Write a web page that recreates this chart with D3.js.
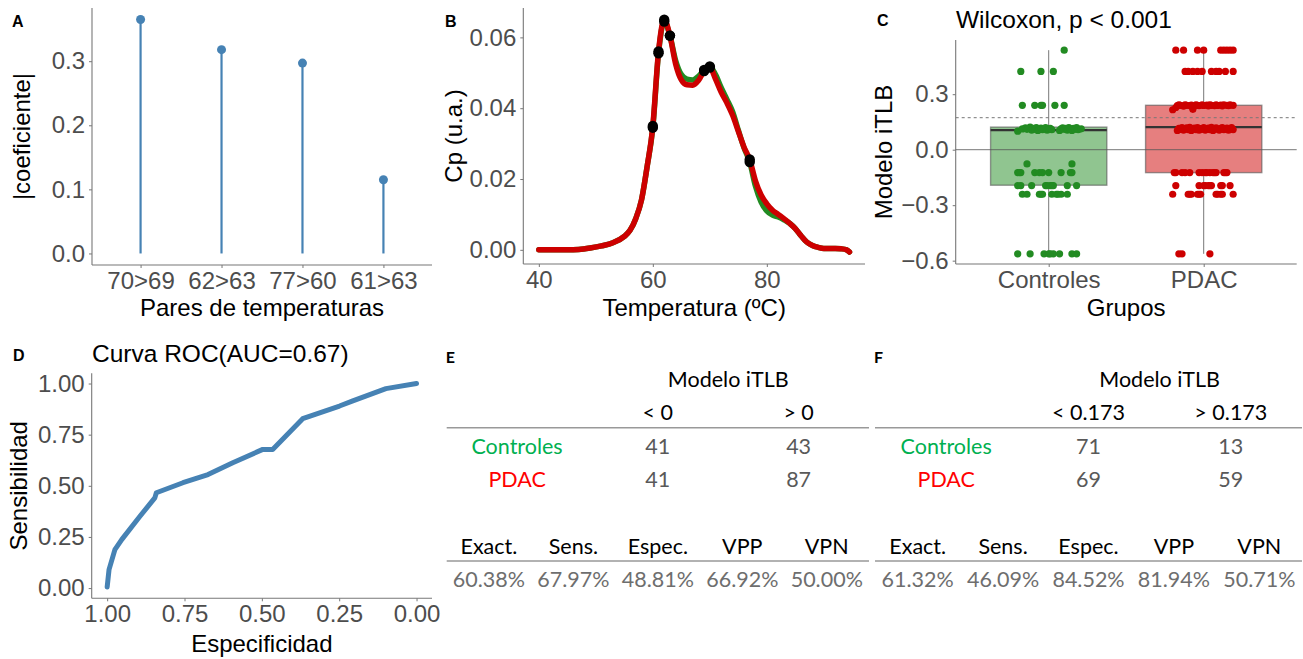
<!DOCTYPE html>
<html>
<head>
<meta charset="utf-8">
<script src="https://cdn.jsdelivr.net/npm/d3@7/dist/d3.min.js"></script>
<style>
  body { margin: 0; background: #fff; }
  svg text { font-family: "Liberation Sans", Arial, sans-serif; }
  .tbl text { font-family: Lato, "Open Sans", sans-serif; }
</style>
</head>
<body>
<svg id="fig" width="1303" height="659"></svg>
<script>
// ---- data: panel A (lollipop) ----
const pairLabels = ["70>69", "62>63", "77>60", "61>63"];
const pairCoefs = [0.365, 0.318, 0.297, 0.115];

// ---- data: panel B (thermograms) ----
const temps = [40, 45, 47, 49, 51, 53, 55, 56, 57, 58, 59, 60, 61, 62, 63, 64, 65, 66, 67, 68, 69, 70,
  71, 72, 73, 74, 75, 76, 77, 78, 79, 80, 81, 82, 83, 84, 85, 86, 87, 88, 89, 90, 91, 92, 93, 94, 94.5];
const cpPDAC = [0, 0, 0.0001, 0.0005, 0.0011, 0.0020, 0.0038, 0.0055, 0.0088, 0.0140, 0.0235, 0.0350,
  0.0560, 0.0650, 0.0605, 0.0525, 0.0480, 0.0466, 0.0465, 0.0478, 0.0505, 0.0515, 0.0482, 0.0445, 0.0415,
  0.0380, 0.0335, 0.0290, 0.0255, 0.0195, 0.0155, 0.0130, 0.0112, 0.0100, 0.0088, 0.0075, 0.0060, 0.0040,
  0.0022, 0.0012, 0.0007, 0.0004, 0.0004, 0.0004, 0.0003, 0.0000, -0.0006];
const cpControles = [0, 0, 0.0001, 0.0005, 0.0011, 0.0020, 0.0038, 0.0055, 0.0088, 0.0140, 0.0235, 0.0345,
  0.0555, 0.0645, 0.0605, 0.0535, 0.0495, 0.0482, 0.0480, 0.0490, 0.0508, 0.0518, 0.0495, 0.0458, 0.0425,
  0.0390, 0.0338, 0.0288, 0.0248, 0.0180, 0.0135, 0.0110, 0.0098, 0.0093, 0.0085, 0.0075, 0.0060, 0.0040,
  0.0022, 0.0012, 0.0007, 0.0004, 0.0004, 0.0004, 0.0003, 0.0000, -0.0006];
const markedTemps = [60, 61, 62, 63, 69, 70, 77];

// ---- data: panel C (boxplot + jittered points) ----
const groups = ["Controles", "PDAC"];
const boxQ1 = [-0.192, -0.124];
const boxMedian = [0.106, 0.122];
const boxQ3 = [0.122, 0.240];
const whiskerLow = [-0.563, -0.563];
const whiskerHigh = [0.538, 0.538];
const cutoff = 0.173;
// [value, jitter as fraction of category spacing]
const ctrlPoints = [
  [0.538, 0.10],
  [0.423, -0.18], [0.423, -0.05], [0.423, 0.03],
  [0.240, -0.17], [0.240, -0.09], [0.240, -0.05], [0.240, -0.04], [0.240, 0.04], [0.240, 0.10],
  [0.100, -0.20], [0.112, -0.17], [0.118, -0.15], [0.110, -0.14], [0.122, -0.12], [0.106, -0.11],
  [0.115, -0.10], [0.110, -0.09], [0.120, -0.08], [0.104, -0.07], [0.112, -0.06], [0.117, -0.05],
  [0.108, -0.04], [0.113, -0.03], [0.120, -0.02], [0.105, -0.01], [0.111, 0.00], [0.116, 0.01],
  [0.108, 0.02], [0.104, 0.07], [0.112, 0.08], [0.118, 0.09], [0.110, 0.10], [0.115, 0.11],
  [0.106, 0.12], [0.120, 0.13], [0.111, 0.14], [0.104, 0.15], [0.116, 0.16], [0.110, 0.17],
  [0.119, 0.18], [0.108, 0.19], [0.113, 0.21],
  [-0.077, -0.14], [-0.077, 0.15],
  [-0.124, -0.20], [-0.124, -0.18], [-0.124, -0.09], [-0.124, -0.06], [-0.124, -0.04], [-0.124, 0.00],
  [-0.124, 0.08], [-0.124, 0.15], [-0.124, 0.14], [-0.124, -0.19],
  [-0.194, -0.20], [-0.194, -0.18], [-0.194, -0.11], [-0.194, -0.02], [-0.194, 0.01], [-0.194, 0.02],
  [-0.194, 0.12], [-0.194, 0.18], [-0.194, -0.01], [-0.194, 0.03],
  [-0.241, -0.17], [-0.241, -0.14], [-0.241, -0.06], [-0.241, -0.04], [-0.241, 0.02], [-0.241, 0.05],
  [-0.241, 0.08], [-0.241, 0.12], [-0.241, -0.05], [-0.241, 0.06],
  [-0.563, -0.20], [-0.563, -0.12], [-0.563, -0.03], [-0.563, 0.00], [-0.563, 0.03], [-0.563, 0.07],
  [-0.563, 0.15], [-0.563, 0.18], [-0.563, 0.01]
];
const pdacPoints = [
  [0.538, -0.18], [0.538, -0.13], [0.538, -0.04], [0.538, 0.00], [0.538, 0.11], [0.538, 0.13],
  [0.538, 0.15], [0.538, 0.17], [0.538, 0.19],
  [0.423, -0.12], [0.423, -0.10], [0.423, -0.07], [0.423, -0.04], [0.423, -0.01], [0.423, 0.05],
  [0.423, 0.08], [0.423, 0.10], [0.423, 0.14], [0.423, 0.19],
  [0.216, -0.20], [0.218, -0.07], [0.228, -0.18],
  [0.238, -0.17], [0.242, -0.16], [0.240, -0.15], [0.236, -0.13], [0.243, -0.12], [0.240, -0.11],
  [0.238, -0.09], [0.241, -0.08], [0.237, -0.06], [0.243, -0.05], [0.240, -0.04], [0.238, -0.03],
  [0.242, -0.01], [0.239, 0.00], [0.241, 0.02], [0.237, 0.03], [0.243, 0.04], [0.240, 0.05],
  [0.238, 0.07], [0.242, 0.08], [0.239, 0.09], [0.241, 0.11], [0.237, 0.12], [0.243, 0.13],
  [0.240, 0.15], [0.238, 0.16], [0.242, 0.17], [0.240, 0.19],
  [0.104, -0.17], [0.116, -0.16], [0.110, -0.15], [0.120, -0.14], [0.106, -0.13], [0.113, -0.12],
  [0.118, -0.11], [0.108, -0.10], [0.121, -0.09], [0.104, -0.08], [0.112, -0.07], [0.117, -0.06],
  [0.109, -0.05], [0.120, -0.04], [0.105, -0.03], [0.114, -0.02], [0.110, -0.01], [0.119, 0.00],
  [0.106, 0.01], [0.112, 0.02], [0.117, 0.03], [0.108, 0.04], [0.121, 0.05], [0.104, 0.06],
  [0.113, 0.07], [0.118, 0.08], [0.110, 0.09], [0.106, 0.10], [0.115, 0.11], [0.120, 0.12],
  [0.108, 0.13], [0.113, 0.14], [0.117, 0.15], [0.105, 0.16], [0.111, 0.17], [0.119, 0.18],
  [0.109, 0.19],
  [-0.124, -0.19], [-0.124, -0.14], [-0.124, -0.09], [-0.124, -0.03], [-0.124, -0.01], [-0.124, 0.02],
  [-0.124, 0.04], [-0.124, 0.06], [-0.124, 0.08], [-0.124, 0.13], [-0.124, 0.15], [-0.124, -0.18],
  [-0.124, -0.12], [-0.124, 0.01], [-0.124, 0.07], [-0.124, 0.14],
  [-0.194, -0.18], [-0.194, -0.03], [-0.194, 0.00], [-0.194, 0.03], [-0.194, 0.05], [-0.194, 0.11],
  [-0.194, 0.17], [-0.194, 0.01], [-0.194, 0.04], [-0.194, 0.12],
  [-0.241, -0.20], [-0.241, -0.10], [-0.241, -0.08], [-0.241, -0.04], [-0.241, -0.02], [-0.241, 0.08],
  [-0.241, 0.12], [-0.241, 0.19], [-0.241, -0.09], [-0.241, -0.03], [-0.241, 0.09], [-0.241, 0.11],
  [-0.563, -0.16], [-0.563, -0.14], [-0.563, 0.04]
];

// ---- data: panel D (ROC) ----
const rocSpec = [1.0, 0.994, 0.975, 0.953, 0.894, 0.846, 0.841, 0.755, 0.674, 0.594, 0.497, 0.465,
  0.368, 0.249, 0.206, 0.099, 0.0];
const rocSens = [0.005, 0.09, 0.188, 0.237, 0.351, 0.441, 0.466, 0.515, 0.555, 0.613, 0.678, 0.678,
  0.828, 0.89, 0.915, 0.975, 1.0];
const aucLabel = "Curva ROC(AUC=0.67)";

// ---- data: panels E and F (tables) ----
const tableGroups = ["Controles", "PDAC"];
const cutsE = ["< 0", "> 0"];
const countsE = [[41, 43], [41, 87]];
const cutsF = ["< 0.173", "> 0.173"];
const countsF = [[71, 13], [69, 59]];
const metricNames = ["Exact.", "Sens.", "Espec.", "VPP", "VPN"];
const metricsE = ["60.38%", "67.97%", "48.81%", "66.92%", "50.00%"];
const metricsF = ["61.32%", "46.09%", "84.52%", "81.94%", "50.71%"];

// ---- drawing ----
const svg = d3.select("#fig");
const AXIS = "#777", TICKTXT = "#4d4d4d";
const GREEN = "#228B22", RED = "#CD0000";
const TICK_PX = 24, TITLE_PX = 24;

function styleAxis(sel) {
  sel.select(".domain").remove();
  sel.attr("font-family", null).attr("font-size", null);
  sel.selectAll(".tick line").attr("stroke", AXIS);
  sel.selectAll(".tick text").attr("fill", TICKTXT).style("font-size", TICK_PX + "px");
}

// draws ggplot-classic style axes for a panel box
function axes(box, x, y, opts) {
  const g = svg.append("g");
  g.append("g").attr("transform", `translate(${box.x0},0)`)
    .call(d3.axisLeft(y).tickValues(opts.yTicks).tickFormat(opts.yFmt).tickSize(3).tickPadding(4))
    .call(styleAxis);
  g.append("g").attr("transform", `translate(0,${box.y1})`)
    .call(d3.axisBottom(x).tickValues(opts.xTicks).tickFormat(opts.xFmt).tickSize(3).tickPadding(4))
    .call(styleAxis);
  g.append("line").attr("x1", box.x0).attr("x2", box.x0).attr("y1", box.y0).attr("y2", box.y1)
    .attr("stroke", AXIS).attr("stroke-width", 1.1);
  g.append("line").attr("x1", box.x0).attr("x2", box.x1).attr("y1", box.y1).attr("y2", box.y1)
    .attr("stroke", AXIS).attr("stroke-width", 1.1);
  // titles
  g.append("text").attr("x", (box.x0 + box.x1) / 2).attr("y", opts.xTitleY)
    .attr("text-anchor", "middle").attr("dominant-baseline", "central")
    .style("font-size", TITLE_PX + "px").attr("fill", "#000").text(opts.xTitle);
  g.append("text").attr("transform", `translate(${opts.yTitleX},${(box.y0 + box.y1) / 2}) rotate(-90)`)
    .attr("text-anchor", "middle").attr("dominant-baseline", "central")
    .style("font-size", TITLE_PX + "px").attr("fill", "#000").text(opts.yTitle);
}

function panelLabel(txt, x, y) {
  svg.append("text").attr("x", x).attr("y", y).attr("dominant-baseline", "central")
    .style("font-size", "16px").style("font-weight", "bold").text(txt);
}

// ---------- A ----------
{
  const box = { x0: 92, x1: 432, y0: 8, y1: 265 };
  const x = d3.scalePoint().domain(pairLabels).range([box.x0, box.x1]).padding(0.6);
  const y = d3.scaleLinear().domain([-0.018, 0.383]).range([box.y1, box.y0]);
  axes(box, x, y, {
    yTicks: [0, 0.1, 0.2, 0.3], yFmt: d3.format(".1f"), xTicks: pairLabels, xFmt: d => d,
    xTitle: "Pares de temperaturas", xTitleY: 307, yTitle: "|coeficiente|", yTitleX: 21
  });
  const g = svg.append("g");
  g.selectAll("line.stem").data(pairLabels).join("line")
    .attr("x1", d => x(d)).attr("x2", d => x(d))
    .attr("y1", y(0)).attr("y2", (d, i) => y(pairCoefs[i]))
    .attr("stroke", "steelblue").attr("stroke-width", 2.2);
  g.selectAll("circle").data(pairLabels).join("circle")
    .attr("cx", d => x(d)).attr("cy", (d, i) => y(pairCoefs[i])).attr("r", 4.5)
    .attr("fill", "steelblue");
  panelLabel("A", 12, 21);
}

// ---------- B ----------
{
  const box = { x0: 523.3, x1: 865, y0: 8, y1: 264 };
  const x = d3.scaleLinear().domain([37.275, 97.225]).range([box.x0, box.x1]);
  const y = d3.scaleLinear().domain([-0.004, 0.0683]).range([box.y1, box.y0]);
  axes(box, x, y, {
    yTicks: [0, 0.02, 0.04, 0.06], yFmt: d3.format(".2f"), xTicks: [40, 60, 80], xFmt: d3.format("d"),
    xTitle: "Temperatura (ºC)", xTitleY: 307, yTitle: "Cp (u.a.)", yTitleX: 453
  });
  const line = d3.line().x((d, i) => x(temps[i])).y(d => y(d)).curve(d3.curveMonotoneX);
  const series = [{ v: cpControles, c: GREEN }, { v: cpPDAC, c: RED }];
  svg.append("g").selectAll("path").data(series).join("path")
    .attr("d", d => line(d.v)).attr("fill", "none").attr("stroke", d => d.c)
    .attr("stroke-width", 5.5).attr("stroke-linejoin", "round").attr("stroke-linecap", "round");
  const dots = [];
  series.forEach(s => markedTemps.forEach(t => dots.push([t, s.v[temps.indexOf(t)]])));
  svg.append("g").selectAll("circle").data(dots).join("circle")
    .attr("cx", d => x(d[0])).attr("cy", d => y(d[1])).attr("r", 5.2).attr("fill", "#000");
  panelLabel("B", 445, 21);
}

// ---------- C ----------
{
  const box = { x0: 955.7, x1: 1296.7, y0: 40, y1: 264 };
  const x = d3.scalePoint().domain(groups).range([box.x0, box.x1]).padding(0.6);
  const y = d3.scaleLinear().domain([-0.618, 0.593]).range([box.y1, box.y0]);
  axes(box, x, y, {
    yTicks: [-0.6, -0.3, 0, 0.3], yFmt: d3.format(".1f"), xTicks: groups, xFmt: d => d,
    xTitle: "Grupos", xTitleY: 307, yTitle: "Modelo iTLB", yTitleX: 883
  });
  const step = x.step(), bw = step * 0.75;
  const fills = [GREEN, RED];
  const g = svg.append("g");
  groups.forEach((grp, i) => {
    const cx = x(grp);
    g.append("line").attr("x1", cx).attr("x2", cx).attr("y1", y(whiskerHigh[i])).attr("y2", y(boxQ3[i]))
      .attr("stroke", "#555").attr("stroke-opacity", 0.8);
    g.append("line").attr("x1", cx).attr("x2", cx).attr("y1", y(boxQ1[i])).attr("y2", y(whiskerLow[i]))
      .attr("stroke", "#555").attr("stroke-opacity", 0.8);
    g.append("rect").attr("x", cx - bw / 2).attr("width", bw)
      .attr("y", y(boxQ3[i])).attr("height", y(boxQ1[i]) - y(boxQ3[i]))
      .attr("fill", fills[i]).attr("fill-opacity", 0.5)
      .attr("stroke", "#555").attr("stroke-opacity", 0.6).attr("stroke-width", 1.4);
    g.append("line").attr("x1", cx - bw / 2).attr("x2", cx + bw / 2)
      .attr("y1", y(boxMedian[i])).attr("y2", y(boxMedian[i]))
      .attr("stroke", "#333").attr("stroke-width", 2.4);
  });
  g.append("line").attr("x1", box.x0).attr("x2", box.x1).attr("y1", y(0)).attr("y2", y(0))
    .attr("stroke", "#555").attr("stroke-opacity", 0.8).attr("stroke-width", 1);
  g.append("line").attr("x1", box.x0).attr("x2", box.x1).attr("y1", y(cutoff)).attr("y2", y(cutoff))
    .attr("stroke", "#777").attr("stroke-width", 1).attr("stroke-dasharray", "3,3");
  [ctrlPoints, pdacPoints].forEach((pts, i) => {
    g.append("g").selectAll("circle").data(pts).join("circle")
      .attr("cx", d => x(groups[i]) + d[1] * step).attr("cy", d => y(d[0])).attr("r", 3.6)
      .attr("fill", fills[i]);
  });
  svg.append("text").attr("x", 956).attr("y", 19).attr("dominant-baseline", "central")
    .style("font-size", "24.5px").text("Wilcoxon, p < 0.001");
  panelLabel("C", 877, 20);
}

// ---------- D ----------
{
  const box = { x0: 91.7, x1: 432, y0: 373.3, y1: 598.3 };
  const x = d3.scaleLinear().domain([1.05, -0.05]).range([box.x0, box.x1]);
  const y = d3.scaleLinear().domain([-0.05, 1.05]).range([box.y1, box.y0]);
  axes(box, x, y, {
    yTicks: [0, 0.25, 0.5, 0.75, 1], yFmt: d3.format(".2f"), xTicks: [1, 0.75, 0.5, 0.25, 0], xFmt: d3.format(".2f"),
    xTitle: "Especificidad", xTitleY: 643, yTitle: "Sensibilidad", yTitleX: 18
  });
  const line = d3.line().x(d => x(d)).y((d, i) => y(rocSens[i]));
  svg.append("path").attr("d", line(rocSpec)).attr("fill", "none").attr("stroke", "steelblue")
    .attr("stroke-width", 5).attr("stroke-linejoin", "round").attr("stroke-linecap", "round");
  svg.append("text").attr("x", 92).attr("y", 353).attr("dominant-baseline", "central")
    .style("font-size", "24.5px").text(aucLabel);
  panelLabel("D", 13, 355);
}

// ---------- E / F ----------
function table(x0, x1, cuts, counts, metrics, label) {
  const g = svg.append("g").attr("class", "tbl");
  const cols = d3.scaleBand().domain(["grp", 0, 1]).range([x0, x1]);
  const mcols = d3.scaleBand().domain(metricNames).range([x0, x1]);
  const c = d => cols(d) + cols.bandwidth() / 2;
  const txt = (x, y, s, fill) => g.append("text").attr("x", x).attr("y", y)
    .attr("text-anchor", "middle").attr("dominant-baseline", "central")
    .style("font-size", "21.5px").attr("fill", fill).text(s);
  g.append("text").attr("x", x0 - 1).attr("y", 356).attr("dominant-baseline", "central")
    .style("font-size", "16px").style("font-weight", "bold").text(label);
  txt((c(0) + c(1)) / 2, 379, "Modelo iTLB", "#000");
  cuts.forEach((s, j) => txt(c(j), 412, s, "#000"));
  g.append("line").attr("x1", x0).attr("x2", x1).attr("y1", 427.7).attr("y2", 427.7)
    .attr("stroke", "#999").attr("stroke-width", 1.5);
  const rowY = [445.5, 479];
  tableGroups.forEach((grp, r) => {
    txt(c("grp"), rowY[r], grp, r === 0 ? "#00B050" : "#FF0000");
    counts[r].forEach((v, j) => txt(c(j), rowY[r], v, "#595959"));
  });
  metricNames.forEach(m => txt(mcols(m) + mcols.bandwidth() / 2, 546, m, "#000"));
  g.append("line").attr("x1", x0).attr("x2", x1).attr("y1", 561).attr("y2", 561)
    .attr("stroke", "#999").attr("stroke-width", 1.5);
  metrics.forEach((m, k) => txt(mcols(metricNames[k]) + mcols.bandwidth() / 2, 578.5, m, "#6e6e6e"));
}
table(446.7, 869, cutsE, countsE, metricsE, "E");
table(875, 1302, cutsF, countsF, metricsF, "F");
</script>
</body>
</html>
